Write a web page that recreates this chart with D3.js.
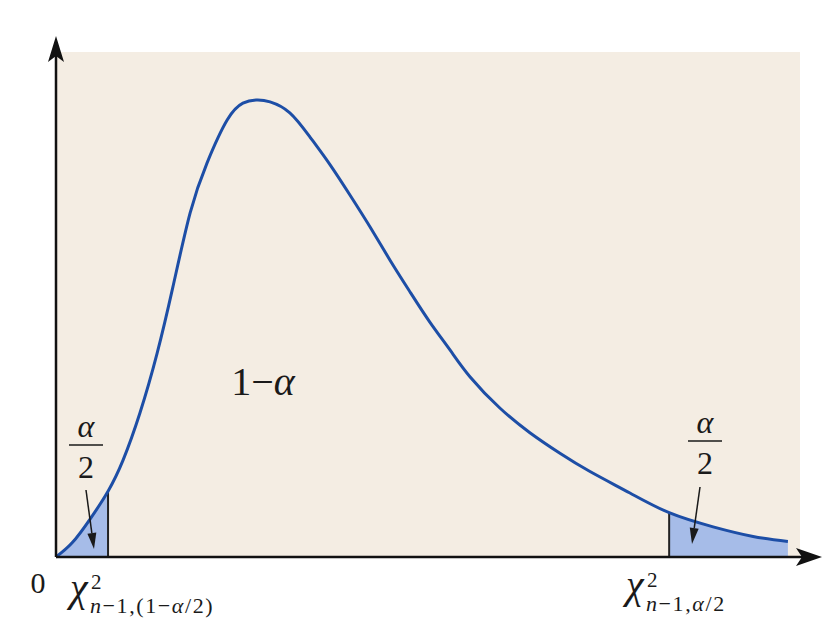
<!DOCTYPE html>
<html lang="en">
<head>
    <meta charset="UTF-8">
    <script src="https://d3js.org/d3.v7.min.js"></script>
    <title>Chi-square confidence interval</title>
    <style>
        body { margin: 0; background: #ffffff; }
        text { fill: #1a1a1a; }
        .it { font-style: italic; }
    </style>
</head>
<body>
<div id="chart"></div>
<script>
    // curve (x in chi-square units, y as % of the peak)
    const curveX = [0, 0.44, 0.93, 1.42, 1.83, 2.29, 2.76, 3.19, 3.66, 4.12, 4.67, 5.10, 5.46, 5.84, 6.38, 6.93,
        7.48, 8.02, 8.57, 9.11, 9.66, 10.20, 10.75, 11.30, 12.11, 12.93, 13.75, 14.57, 15.66, 16.73, 17.93, 19.02, 19.97];
    const curveY = [0, 3.1, 8.3, 14.4, 21.2, 31.5, 44.6, 59.1, 75.3, 86.2, 95.6, 99.3, 100, 99.6, 97.2, 91.9,
        85.8, 79.2, 72.2, 65.0, 58.0, 51.4, 45.3, 39.4, 32.6, 27.2, 22.7, 18.7, 14.0, 9.7, 6.6, 4.5, 3.4];

    const critX = [1.42, 16.73];      // lower and upper critical values
    const critY = [14.4, 9.7];

    const width = 829, height = 644;
    const plotLeft = 56, plotRight = 789, baseY = 557, topY = 100;
    const serif = "'Liberation Serif', 'Times New Roman', 'DejaVu Serif', serif";

    const svg = d3.select("#chart").append("svg")
        .attr("width", width)
        .attr("height", height)
        .attr("font-family", serif);

    const x = d3.scaleLinear().domain([0, 20]).range([plotLeft, plotRight]);
    const y = d3.scaleLinear().domain([0, 100]).range([baseY, topY]);

    const pts = curveX.map((d, i) => [d, curveY[i]]);

    /*------------------- background panel --------------------*/
    svg.append("rect")
        .attr("x", plotLeft + 1)
        .attr("y", 52)
        .attr("width", 800 - plotLeft - 1)
        .attr("height", baseY - 52)
        .attr("fill", "#f4ede3");

    /*------------------- shaded tails --------------------*/
    const defs = svg.append("defs");
    const clip = defs.append("clipPath").attr("id", "tails");
    clip.append("rect")
        .attr("x", x(0)).attr("y", 0)
        .attr("width", x(critX[0]) - x(0)).attr("height", height);
    clip.append("rect")
        .attr("x", x(critX[1])).attr("y", 0)
        .attr("width", x(20) - x(critX[1])).attr("height", height);

    const area = d3.area()
        .x(d => x(d[0]))
        .y0(y(0))
        .y1(d => y(d[1]))
        .curve(d3.curveNatural);

    svg.append("path")
        .datum(pts)
        .attr("d", area)
        .attr("fill", "#a6bce8")
        .attr("clip-path", "url(#tails)");

    // vertical lines at the critical values
    critX.forEach((c, i) => {
        svg.append("line")
            .attr("x1", x(c)).attr("x2", x(c))
            .attr("y1", y(0)).attr("y2", y(critY[i]))
            .attr("stroke", "#222")
            .attr("stroke-width", 2);
    });

    /*------------------- density curve --------------------*/
    const line = d3.line()
        .x(d => x(d[0]))
        .y(d => y(d[1]))
        .curve(d3.curveNatural);

    svg.append("path")
        .datum(pts)
        .attr("d", line)
        .attr("fill", "none")
        .attr("stroke", "#1d4ea6")
        .attr("stroke-width", 3);

    /*------------------- axes with arrow heads --------------------*/
    svg.append("line")
        .attr("x1", plotLeft).attr("x2", 806)
        .attr("y1", baseY).attr("y2", baseY)
        .attr("stroke", "#111").attr("stroke-width", 2.5);
    svg.append("line")
        .attr("x1", plotLeft).attr("x2", plotLeft)
        .attr("y1", baseY).attr("y2", 50)
        .attr("stroke", "#111").attr("stroke-width", 2.5);

    // x arrow
    svg.append("path")
        .attr("d", `M822,${baseY} L796,${baseY - 9} L802,${baseY} L796,${baseY + 9} Z`)
        .attr("fill", "#111");
    // y arrow
    svg.append("path")
        .attr("d", `M${plotLeft},36 L${plotLeft - 8},62 L${plotLeft},56 L${plotLeft + 8},62 Z`)
        .attr("fill", "#111");

    /*------------------- labels --------------------*/
    svg.append("text")
        .attr("x", 38).attr("y", 593)
        .attr("text-anchor", "middle")
        .style("font-size", "30px")
        .text("0");

    svg.append("text")
        .attr("x", 263).attr("y", 395)
        .attr("text-anchor", "middle")
        .style("font-size", "40px")
        .html('1\u2212<tspan class="it">α</tspan>');

    // alpha over 2 fractions with little arrows
    function fraction(cx, topBase) {
        svg.append("text")
            .attr("x", cx).attr("y", topBase)
            .attr("text-anchor", "middle")
            .attr("class", "it")
            .style("font-size", "32px")
            .text("α");
        svg.append("line")
            .attr("x1", cx - 17).attr("x2", cx + 17)
            .attr("y1", topBase + 8).attr("y2", topBase + 8)
            .attr("stroke", "#1a1a1a").attr("stroke-width", 1.6);
        svg.append("text")
            .attr("x", cx).attr("y", topBase + 41)
            .attr("text-anchor", "middle")
            .style("font-size", "32px")
            .text("2");
    }
    fraction(86, 437);
    fraction(705, 433);

    function pointer(x1, y1, x2, y2) {
        const a = Math.atan2(y2 - y1, x2 - x1);
        const len = 16, half = 4.5;
        const bx = x2 - len * Math.cos(a), by = y2 - len * Math.sin(a);
        svg.append("line")
            .attr("x1", x1).attr("y1", y1).attr("x2", bx).attr("y2", by)
            .attr("stroke", "#1a1a1a").attr("stroke-width", 1.5);
        svg.append("path")
            .attr("d", `M${x2},${y2} L${bx - half * Math.sin(a)},${by + half * Math.cos(a)} L${bx + half * Math.sin(a)},${by - half * Math.cos(a)} Z`)
            .attr("fill", "#1a1a1a");
    }
    pointer(86, 490, 94, 549);
    pointer(700, 487, 692, 544);

    // chi-square critical value labels, one text each
    function chiLabel(x0, base, supBase, subBase, sub) {
        const t = svg.append("text").attr("x", x0).attr("y", base);
        t.append("tspan")
            .attr("class", "it")
            .style("font-size", "40px")
            .text("χ");
        t.append("tspan")
            .attr("x", x0 + 21).attr("y", supBase)
            .style("font-size", "21px")
            .text("2");
        t.append("tspan")
            .attr("x", x0 + 20).attr("y", subBase)
            .style("font-size", "22px")
            .style("letter-spacing", "1.6px")
            .html(sub);
    }
    chiLabel(70, 601, 589, 613, '<tspan class="it">n</tspan>\u22121,(1\u2212<tspan class="it">α</tspan>/2)');
    chiLabel(626, 598, 587, 611, '<tspan class="it">n</tspan>\u22121,<tspan class="it">α</tspan>/2');
</script>
</body>
</html>
